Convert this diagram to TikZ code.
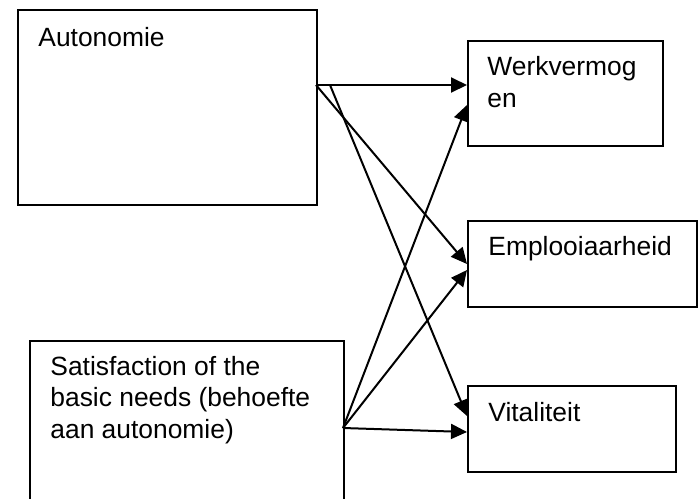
\documentclass[tikz,border=0pt]{standalone}
\usepackage{fontspec}
\setmainfont{Liberation Sans}
\usetikzlibrary{arrows.meta}

\tikzset{
  vak/.style={draw,line width=1pt,rectangle,anchor=north west,inner sep=0pt},
  tekst/.style={anchor=base west,inner sep=0pt,align=left,font=\fontsize{13.2}{15.75}\selectfont},
  pijl/.style={-{Triangle[length=8pt,width=7.5pt]},line width=1pt}
}

\begin{document}
\begin{tikzpicture}[x=.5pt,y=-.5pt]
\useasboundingbox (0,0) rectangle (698,499);
% linker vakken (base = basislijn van de laatste regel)
 \node[vak,minimum width=149.5pt,minimum height=97.5pt] (auto) at (17,9) {};
 \node[tekst] (autotekst) at (38,46) {Autonomie};
 \node[vak,minimum width=157pt,minimum height=90pt] (satis) at (29,340) {};
 \node[tekst] (satistekst) at (50,438) {Satisfaction of the\\basic needs (behoefte\\aan autonomie)};
% rechter vakken
 \node[vak,minimum width=97.5pt,minimum height=52.5pt] (werk) at (467,40) {};
 \node[tekst] (werktekst) at (487,107) {Werkvermog\\en};
 \node[vak,minimum width=114.5pt,minimum height=43pt] (empl) at (467,220) {};
 \node[tekst] (empltekst) at (488,255) {Emplooiaarheid};
 \node[vak,minimum width=104pt,minimum height=43pt] (vital) at (467,385) {};
 \node[tekst] (vitaltekst) at (488,421) {Vitaliteit};

 \coordinate (autouit) at (316,85);
 \coordinate (autouit2) at (330,85);
 \coordinate (satisuit) at (343,428);
 \coordinate (werkin1) at (467,85);
 \coordinate (werkin2) at (467,105);
 \coordinate (emplin1) at (467,264);
 \coordinate (emplin2) at (467,270);
 \coordinate (vitalin1) at (467,416);
 \coordinate (vitalin2) at (467,432);

 \draw[pijl] (autouit) -- (werkin1);
 \draw[pijl] (autouit) -- (emplin1);
 \draw[pijl] (autouit2) -- (vitalin1);
 \draw[pijl] (satisuit) -- (werkin2);
 \draw[pijl] (satisuit) -- (emplin2);
 \draw[pijl] (satisuit) -- (vitalin2);
\end{tikzpicture}
\end{document}
